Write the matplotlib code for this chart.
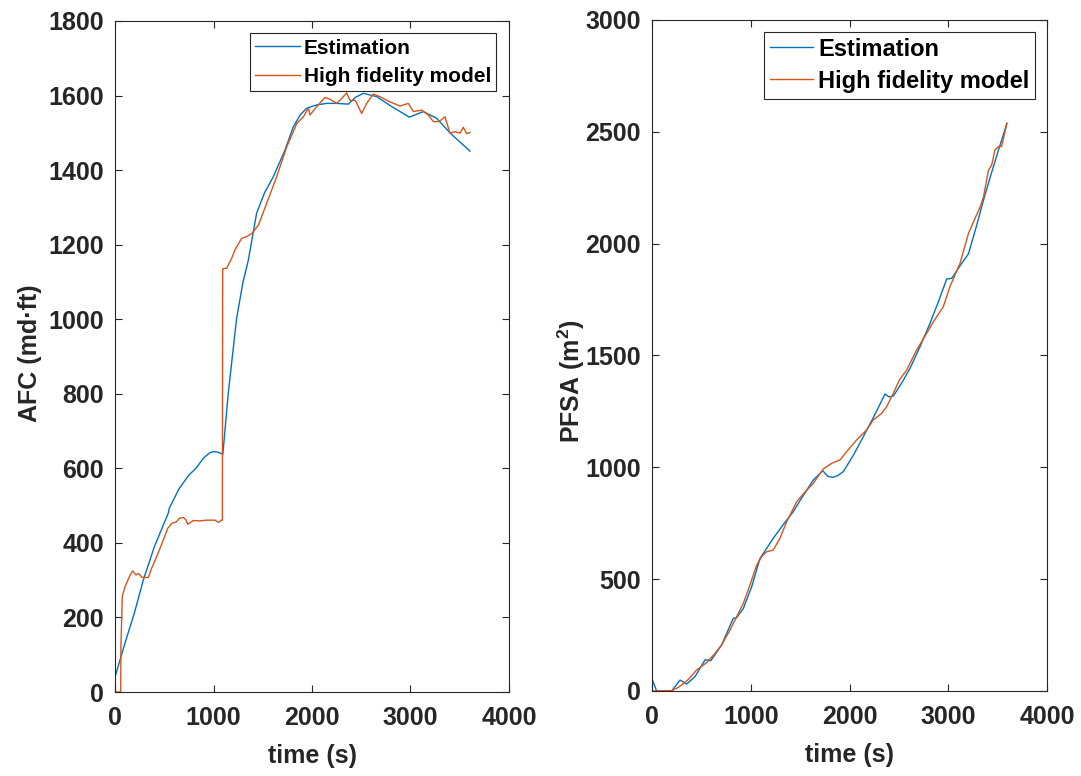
import matplotlib
matplotlib.use("Agg")
import matplotlib.pyplot as plt

plt.rcParams['font.family'] = ['Liberation Sans', 'DejaVu Sans']
plt.rcParams['font.weight'] = 'bold'
plt.rcParams['mathtext.fontset'] = 'custom'
plt.rcParams['mathtext.rm'] = 'Liberation Sans:bold'
plt.rcParams['mathtext.it'] = 'Liberation Sans:bold'
plt.rcParams['mathtext.bf'] = 'Liberation Sans:bold'

BLUE = '#0072BD'
ORANGE = '#D95319'

# ---- Left panel: AFC ----
afc_est_t = [0, 100, 200, 287, 400, 541, 551, 650, 750, 822, 900, 964, 1000, 1050, 1095,
             1150, 1235, 1300, 1354, 1438, 1520, 1607, 1726, 1810, 1880, 1946, 2050, 2149,
             2250, 2369, 2440, 2521, 2657, 2800, 2988, 3130, 3266, 3400, 3604]
afc_est_v = [40, 130, 215, 300, 390, 480, 493, 545, 582, 600, 628, 642, 645, 643, 638,
             802, 1003, 1100, 1159, 1285, 1340, 1382, 1454, 1516, 1548, 1566, 1575, 1579,
             1579, 1577, 1595, 1606, 1597, 1572, 1542, 1557, 1539, 1500, 1451]

afc_hf_t = [0, 58, 60, 74, 101, 145, 179, 213, 240, 271, 338, 372, 423, 491, 535, 575, 626,
            653, 694, 720, 738, 795, 860, 931, 1015, 1049, 1083, 1090, 1093, 1134, 1184,
            1218, 1235, 1286, 1340, 1388, 1455, 1540, 1641, 1743, 1845, 1912, 1963, 1980,
            2047, 2132, 2183, 2251, 2300, 2352, 2386, 2440, 2504, 2555, 2622, 2690, 2792,
            2893, 2978, 3029, 3114, 3181, 3232, 3290, 3350, 3401, 3450, 3503, 3536, 3570,
            3604]
afc_hf_v = [0, 0, 120, 256, 282, 309, 325, 314, 318, 308, 307, 332, 363, 408, 439, 452, 457,
            466, 468, 462, 450, 460, 459, 461, 461, 455, 461, 461, 1135, 1137, 1163,
            1186, 1194, 1217, 1222, 1230, 1252, 1311, 1382, 1462, 1525, 1543, 1566, 1548,
            1570, 1595, 1590, 1579, 1592, 1607, 1587, 1587, 1552, 1579, 1604, 1597, 1583,
            1572, 1579, 1557, 1561, 1548, 1530, 1530, 1543, 1499, 1503, 1499, 1515, 1498,
            1501]

# ---- Right panel: PFSA ----
pfsa_est_t = [0, 47, 100, 150, 199, 284, 351, 435, 537, 597, 705, 823, 857, 925, 1009,
              1094, 1228, 1331, 1431, 1533, 1633, 1729, 1780, 1830, 1880, 1938, 2040, 2140,
              2250, 2360, 2400, 2444, 2530, 2613, 2715, 2815, 2900, 2984, 3035, 3136, 3204,
              3280, 3357, 3430, 3509, 3594]
pfsa_est_v = [54, 0, 0, 0, 0, 49, 31, 64, 139, 136, 206, 325, 328, 369, 466,
              593, 683, 745, 802, 875, 943, 985, 960, 955, 963, 981, 1055, 1137,
              1230, 1328, 1315, 1319, 1378, 1443, 1540, 1644, 1740, 1842, 1845, 1912, 1954,
              2070, 2195, 2305, 2419, 2538]

pfsa_hf_t = [0, 100, 199, 250, 301, 368, 452, 554, 638, 705, 790, 857, 925, 992, 1060,
             1110, 1161, 1228, 1296, 1364, 1465, 1550, 1633, 1735, 1820, 1904, 1971, 2072,
             2173, 2241, 2325, 2376, 2444, 2504, 2579, 2680, 2781, 2849, 2950, 3017, 3119,
             3205, 3256, 3324, 3357, 3408, 3440, 3473, 3509, 3540, 3594]
pfsa_hf_v = [0, 0, 2, 12, 27, 52, 94, 127, 168, 206, 273, 332, 392, 474, 563,
             600, 623, 630, 683, 757, 846, 890, 928, 993, 1018, 1033, 1070, 1122,
             1167, 1212, 1241, 1271, 1331, 1390, 1435, 1525, 1599, 1651, 1718, 1808, 1912,
             2046, 2098, 2165, 2210, 2329, 2352, 2419, 2434, 2434, 2538]

fig = plt.figure(figsize=(10.81, 7.76), dpi=100)
W, H = 1081, 776
axL = fig.add_axes([115 / W, (H - 692) / H, 394 / W, 671 / H])
axR = fig.add_axes([652 / W, (H - 691) / H, 395 / W, 671 / H])


def style(ax):
    for s in ax.spines.values():
        s.set_color('#262626')
        s.set_linewidth(0.8)
    ax.tick_params(direction='in', top=True, right=True, length=5, width=0.8,
                   colors='#262626', labelsize=18, pad=8)
    ax.tick_params(axis='x', pad=10)
    for lab in ax.get_xticklabels() + ax.get_yticklabels():
        lab.set_fontweight('bold')


axL.plot(afc_est_t, afc_est_v, color=BLUE, lw=1.0, label='Estimation')
axL.plot(afc_hf_t, afc_hf_v, color=ORANGE, lw=1.0, label='High fidelity model')
axL.set_xlim(0, 4000)
axL.set_ylim(0, 1800)
axL.set_xticks([0, 1000, 2000, 3000, 4000])
axL.set_yticks(range(0, 1801, 200))
style(axL)
axL.set_xlabel('time (s)', fontsize=18, fontweight='bold', labelpad=10, color='#262626')
axL.set_ylabel('AFC (md\u00b7ft)', fontsize=18, fontweight='bold', color='#262626')
axL.yaxis.set_label_coords(-0.185, 0.505)
legL = axL.legend(loc='upper right', prop={'weight': 'bold', 'size': 15},
                  frameon=True, fancybox=False, edgecolor='#262626', framealpha=1,
                  handlelength=2.15, handletextpad=0.2, borderpad=0.25, labelspacing=0.45,
                  borderaxespad=0.6)
legL.get_frame().set_linewidth(0.8)

axR.plot(pfsa_est_t, pfsa_est_v, color=BLUE, lw=1.0, label='Estimation')
axR.plot(pfsa_hf_t, pfsa_hf_v, color=ORANGE, lw=1.0, label='High fidelity model')
axR.set_xlim(0, 4000)
axR.set_ylim(0, 3000)
axR.set_xticks([0, 1000, 2000, 3000, 4000])
axR.set_yticks(range(0, 3001, 500))
style(axR)
axR.set_xlabel('time (s)', fontsize=18, fontweight='bold', labelpad=10, color='#262626')
axR.set_ylabel('PFSA (m$^{2}$)', fontsize=18, fontweight='bold', color='#262626')
axR.yaxis.set_label_coords(-0.165, 0.462)
legR = axR.legend(loc='upper right', prop={'weight': 'bold', 'size': 17},
                  frameon=True, fancybox=False, edgecolor='#262626', framealpha=1,
                  handlelength=1.85, handletextpad=0.2, borderpad=0.25, labelspacing=0.38,
                  borderaxespad=0.5)
legR.get_frame().set_linewidth(0.8)

fig.savefig('out.png', dpi=100)
